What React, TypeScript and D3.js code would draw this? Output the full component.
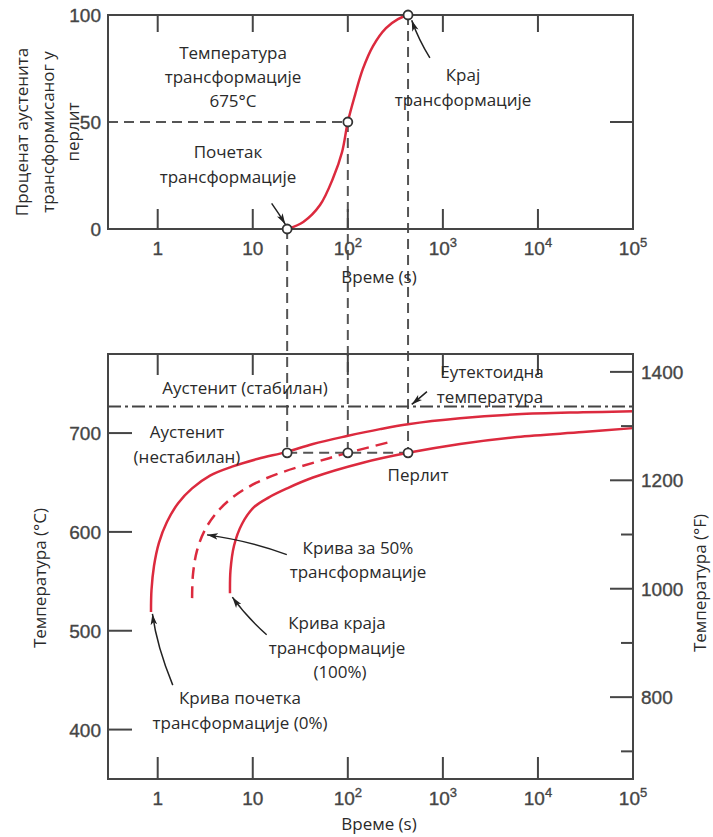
import React from 'react';
import * as d3 from 'd3';

// top panel: percent transformed vs time at 675°C
const topTime = [23, 34, 51, 70, 87, 100, 119, 144, 184, 252, 337, 430];
const topPct = [0, 3.3, 11.2, 23.8, 36, 50, 62.6, 74.8, 85.5, 93.9, 98.1, 100];

// bottom panel: TTT curves
const startTime = [0.85, 0.86, 0.914, 1.03, 1.25, 1.64, 2.3, 3.55, 6.05, 11.4, 22.9, 43, 98, 218, 430, 1514, 6025, 29800, 100000];
const startTemp = [519, 541, 565.5, 589, 610, 629, 644, 657, 666, 674, 681, 689, 697, 704, 709, 715, 719, 721, 722];
const halfTime = [2.3, 2.35, 2.59, 3.14, 4.21, 6.35, 10.8, 21.3, 47.4, 100, 278];
const halfTemp = [533, 557, 581, 602, 620, 636, 649.5, 661, 671, 680, 691];
const endTime = [5.76, 5.83, 6.35, 7.7, 10.3, 14.8, 22.9, 43, 144, 430, 1514, 6025, 29800, 100000];
const endTemp = [538, 561, 586, 608, 625, 635, 644, 655, 670, 680, 689, 696, 701, 705];

const markerTimes = [23, 100, 430];
const markerTemp = 680;
const markerPct = [0, 50, 100];
const eutectoidTemp = 727;

const decades = [1, 10, 100, 1000, 10000, 100000];
const pctTicks = [0, 50, 100];
const celsiusTicks = [400, 500, 600, 700];
const fahrenheitMajor = [800, 1000, 1200, 1400];
const fahrenheitMinor = [700, 900, 1100, 1300];

const RED = '#dc2a3e';
const AX = '#454545';
const TXT = '#2a2a2a';
const tickFont = '"Liberation Sans", Arial, sans-serif';
const textFont = '"Open Sans", "Noto Sans", sans-serif';

const L = 108, R = 633;
const x = d3.scaleLog().domain([0.3, 1e5]).range([L, R]);
const yTop = d3.scaleLinear().domain([0, 100]).range([229, 15]);
const yC = d3.scaleLinear().domain([350, 780]).range([779, 354]);
const yF = d3.scaleLinear().domain([649, 1433]).range([779, 354]);

const zip = (a: number[], b: number[]) => a.map((v, i) => [v, b[i]] as [number, number]);

const lineTop = d3.line<[number, number]>().x(d => x(d[0])).y(d => yTop(d[1])).curve(d3.curveCatmullRom.alpha(0.5));
const lineBot = d3.line<[number, number]>().x(d => x(d[0])).y(d => yC(d[1])).curve(d3.curveCatmullRom.alpha(0.5));

const tickLabel = (v: number) => {
  const e = Math.round(Math.log10(v));
  if (e === 0) return <>1</>;
  if (e === 1) return <>10</>;
  return <>10<tspan dy={-8} fontSize={13}>{e}</tspan></>;
};

// quadratic arrow from p0 via pc to p1, all in data space
const arrow = (p0: number[], pc: number[], p1: number[], y: (v: number) => number) =>
  `M${x(p0[0])},${y(p0[1])} Q${x(pc[0])},${y(pc[1])} ${x(p1[0])},${y(p1[1])}`;

const Frame = ({ top, bottom }: { top: number; bottom: number }) => (
  <rect x={L} y={top} width={R - L} height={bottom - top} fill="none" stroke={AX} strokeWidth={2} />
);

const App = () => {
  const topBottom = yTop(0), topTop = yTop(100);
  const botTop = yC.range()[1], botBottom = yC.range()[0];
  return (
    <svg width={713} height={837} style={{ position: 'absolute', left: 0, top: 0, display: 'block', background: '#fff' }}>
      <defs>
        <marker id="ah" viewBox="0 0 10 6" refX={10} refY={3} markerWidth={11} markerHeight={7} markerUnits="userSpaceOnUse" orient="auto">
          <path d="M0,0 L10,3 L0,6 L2.5,3 z" fill="#222" />
        </marker>
      </defs>

      {/* guide dashes */}
      <g stroke="#555" strokeWidth={2} strokeDasharray="10,6" fill="none">
        <line x1={L} x2={x(100)} y1={yTop(50)} y2={yTop(50)} />
        {markerTimes.map((t, i) => (
          <line key={t} x1={x(t)} x2={x(t)} y1={yTop(markerPct[i])} y2={yC(markerTemp)} />
        ))}
        <line x1={x(markerTimes[0])} x2={x(markerTimes[2])} y1={yC(markerTemp)} y2={yC(markerTemp)} />
      </g>
      <line x1={L} x2={R} y1={yC(eutectoidTemp)} y2={yC(eutectoidTemp)} stroke="#444" strokeWidth={2} strokeDasharray="13,4,3,4" />

      {/* curves */}
      <path d={lineTop(zip(topTime, topPct)) || ''} fill="none" stroke={RED} strokeWidth={2.5} />
      <path d={lineBot(zip(startTime, startTemp)) || ''} fill="none" stroke={RED} strokeWidth={2.5} />
      <path d={lineBot(zip(halfTime, halfTemp)) || ''} fill="none" stroke={RED} strokeWidth={2.5} strokeDasharray="12,7" />
      <path d={lineBot(zip(endTime, endTemp)) || ''} fill="none" stroke={RED} strokeWidth={2.5} />

      {/* frames and ticks */}
      <Frame top={topTop} bottom={topBottom} />
      <Frame top={botTop} bottom={botBottom} />
      <g stroke={AX} strokeWidth={2}>
        {decades.slice(0, 5).map(d => (
          <g key={d}>
            <line x1={x(d)} x2={x(d)} y1={topTop} y2={topTop + 17} />
            <line x1={x(d)} x2={x(d)} y1={topBottom} y2={topBottom - 20} />
            <line x1={x(d)} x2={x(d)} y1={botTop} y2={botTop + 21} />
            <line x1={x(d)} x2={x(d)} y1={botBottom} y2={botBottom - 22} />
          </g>
        ))}
        <line x1={R} x2={R - 23} y1={yTop(50)} y2={yTop(50)} />
        {celsiusTicks.map(c => <line key={c} x1={L} x2={L + 24} y1={yC(c)} y2={yC(c)} />)}
        {fahrenheitMajor.map(f => <line key={f} x1={R} x2={R - 23} y1={yF(f)} y2={yF(f)} />)}
        {fahrenheitMinor.map(f => <line key={f} x1={R} x2={R - 12} y1={yF(f)} y2={yF(f)} />)}
      </g>

      {/* markers */}
      {markerTimes.map((t, i) => (
        <g key={t} fill="#fff" stroke="#333" strokeWidth={1.8}>
          <circle cx={x(t)} cy={yTop(markerPct[i])} r={4.5} />
          <circle cx={x(t)} cy={yC(markerTemp)} r={4.5} />
        </g>
      ))}

      {/* tick labels */}
      <g fontFamily={tickFont} fontSize={19} fill={AX} stroke={AX} strokeWidth={0.35}>
        {decades.map(d => (
          <g key={d}>
            <text x={x(d)} y={255} textAnchor="middle">{tickLabel(d)}</text>
            <text x={x(d)} y={805} textAnchor="middle">{tickLabel(d)}</text>
          </g>
        ))}
        {pctTicks.map(p => <text key={p} x={101} y={yTop(p) + 7} textAnchor="end">{p}</text>)}
        {celsiusTicks.map(c => <text key={c} x={101} y={yC(c) + 7} textAnchor="end">{c}</text>)}
        {fahrenheitMajor.map(f => <text key={f} x={641} y={yF(f) + 7}>{f}</text>)}
      </g>

      {/* arrows */}
      <g fill="none" stroke="#222" strokeWidth={1.5} markerEnd="url(#ah)">
        <path d={arrow([15.8, 12], [19, 7], [22, 2.2], yTop)} />
        <path d={arrow([730, 80], [560, 88], [470, 97.5], yTop)} />
        <path d={arrow([680, 742], [560, 735], [470, 729], yC)} />
        <path d={arrow([22.8, 577], [9.3, 591], [3.3, 597], yC)} />
        <path d={arrow([14, 496], [8.6, 514], [6.1, 534], yC)} />
        <path d={arrow([1.44, 445], [0.98, 484], [0.88, 517], yC)} />
      </g>

      {/* annotations */}
      <g fontFamily={textFont} fontSize={17} fill={TXT} textAnchor="middle">
        <text x={233} y={59}>Температура</text>
        <text x={233} y={83}>трансформације</text>
        <text x={233} y={107}>675°C</text>
        <text x={228} y={158}>Почетак</text>
        <text x={228} y={183}>трансформације</text>
        <text x={463} y={81}>Крај</text>
        <text x={463} y={106}>трансформације</text>
        <text x={379} y={283}>Време (s)</text>

        <text x={245} y={394}>Аустенит (стабилан)</text>
        <text x={187} y={438}>Аустенит</text>
        <text x={187} y={463}>(нестабилан)</text>
        <text x={492} y={378}>Еутектоидна</text>
        <text x={490} y={403}>температура</text>
        <text x={418} y={481}>Перлит</text>
        <text x={358} y={554}>Крива за 50%</text>
        <text x={358} y={578}>трансформације</text>
        <text x={337} y={629}>Крива краја</text>
        <text x={337} y={654}>трансформације</text>
        <text x={340} y={678}>(100%)</text>
        <text x={240} y={704}>Крива почетка</text>
        <text x={240} y={729}>трансформације (0%)</text>
        <text x={379} y={830}>Време (s)</text>

        <g transform="translate(22,132) rotate(-90)">
          <text x={0} y={6}>Проценат аустенита</text>
        </g>
        <g transform="translate(48,132) rotate(-90)">
          <text x={0} y={6}>трансформисаног у</text>
        </g>
        <g transform="translate(73,132) rotate(-90)">
          <text x={0} y={6}>перлит</text>
        </g>
        <g transform="translate(40,578) rotate(-90)">
          <text x={0} y={6}>Температура (°C)</text>
        </g>
        <g transform="translate(700,583) rotate(-90)">
          <text x={0} y={6}>Температура (°F)</text>
        </g>
      </g>
    </svg>
  );
};

export default App;
